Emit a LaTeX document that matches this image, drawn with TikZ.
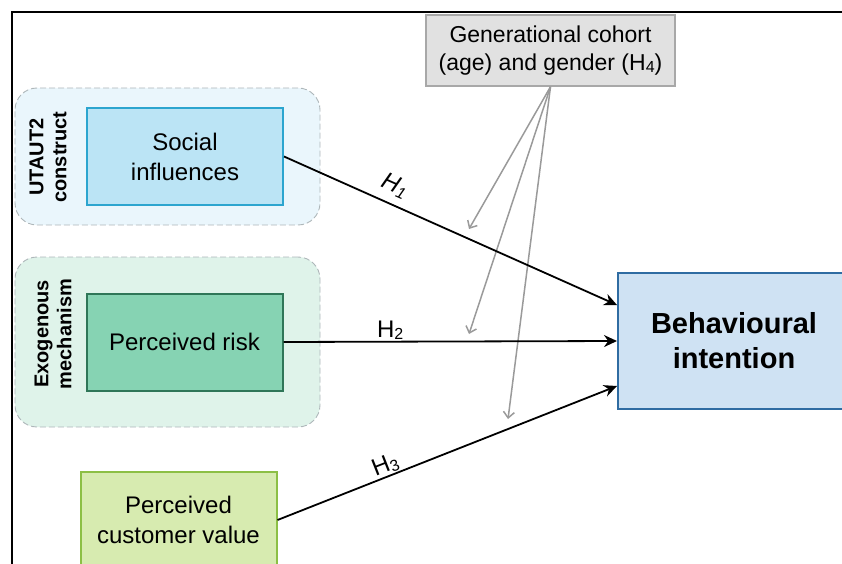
\documentclass[tikz,border=0pt]{standalone}
\usepackage{fontspec}
\setmainfont{Liberation Sans}
\usetikzlibrary{arrows.meta,positioning}

\definecolor{utfill}{HTML}{EAF6FC}
\definecolor{exfill}{HTML}{DFF3EA}
\definecolor{grpline}{HTML}{AEB7BA}
\definecolor{sifill}{HTML}{BBE4F5}
\definecolor{siline}{HTML}{2CA5CF}
\definecolor{prfill}{HTML}{86D3B3}
\definecolor{prline}{HTML}{2F7658}
\definecolor{pcvfill}{HTML}{D7EBB0}
\definecolor{pcvline}{HTML}{8CBF45}
\definecolor{genfill}{HTML}{E1E1E1}
\definecolor{genline}{HTML}{A8A8A8}
\definecolor{bifill}{HTML}{CFE2F3}
\definecolor{biline}{HTML}{2F6CA2}
\definecolor{modgray}{HTML}{9A9A9A}

% hypothesis number: H with a small digit
\newcommand{\hypno}[2]{#1\raisebox{-0.2ex}{\fontsize{16}{16}\selectfont #2}}

\tikzset{
	grp/.style={rounded corners=22pt, draw=grpline, line width=0.9pt, dash pattern=on 6pt off 3pt},
	grplabel/.style={rotate=90, align=center, font=\bfseries\fontsize{20}{23}\selectfont},
	construct/.style={draw, line width=2pt, align=center, inner sep=0pt, minimum width=196pt, minimum height=97pt, font=\fontsize{24}{30}\selectfont},
	hypedge/.style={->,>={Stealth[width=12pt,length=13pt]}, color=black, line width=1.8pt},
	modedge/.style={->,>={Straight Barb[width=11pt,length=6pt]}, color=modgray, line width=1.5pt},
	hlabel/.style={inner sep=2pt, font=\fontsize{24}{24}\selectfont}
}

\begin{document}
\begin{tikzpicture}[x=1pt, y=-1pt]
	\clip (0,0) rectangle (842,564);
	\draw[line width=2pt] (12,12) rectangle (880,600);
	
	% construct groups
	\node[grp, fill=utfill, minimum width=305pt, minimum height=137pt] (UT) at (167.5,156.5) {};
	\node[grp, fill=exfill, minimum width=305pt, minimum height=170pt] (EX) at (167.5,342) {};
	\node[grplabel] (UTlab) at (48,157) {UTAUT2\\construct};
	\node[grplabel] (EXlab) at (53,334) {Exogenous\\mechanism};
	
	% constructs
	\node[construct, fill=sifill, draw=siline] (SI) at (185,156.5) {Social\\influences};
	\node[construct, fill=prfill, draw=prline] (PR) at (184.5,342) {Perceived risk};
	\node[construct, fill=pcvfill, draw=pcvline] (PCV) at (178.5,520) {Perceived\\customer value};
	\node[draw=genline, fill=genfill, line width=1.5pt, align=center, inner sep=0pt, minimum width=249pt, minimum height=71pt, font=\fontsize{23}{28}\selectfont] (GEN) at (550.5,50.5) {Generational cohort\\(age) and gender (\hypno{H}{4})};
	\node[draw=biline, fill=bifill, line width=2pt, align=center, inner sep=0pt, minimum width=232pt, minimum height=136pt, font=\bfseries\fontsize{29}{35}\selectfont] (BI) at (734,341) {Behavioural\\intention};
	
	% moderation
	\coordinate (M1) at (469,229);
	\coordinate (M2) at (469,334);
	\coordinate (M3) at (508,419);
	\draw[modedge] (GEN.south) -- (M1);
	\draw[modedge] (GEN.south) -- (M2);
	\draw[modedge] (GEN.south) -- (M3);
	
	% hypotheses
	\draw[hypedge] (SI.east) --node[hlabel, sloped, above=6pt, pos=0.31] {\textit{\hypno{H}{1}}} ([yshift=36pt]BI.west);
	\draw[hypedge] (PR.east) --node[hlabel, above, pos=0.32, inner sep=1pt] {\hypno{H}{2}} (BI.west);
	\draw[hypedge] (PCV.east) --node[hlabel, sloped, above, pos=0.33, inner sep=1pt] {\hypno{H}{3}} ([yshift=-45pt]BI.west);
\end{tikzpicture}
\end{document}
